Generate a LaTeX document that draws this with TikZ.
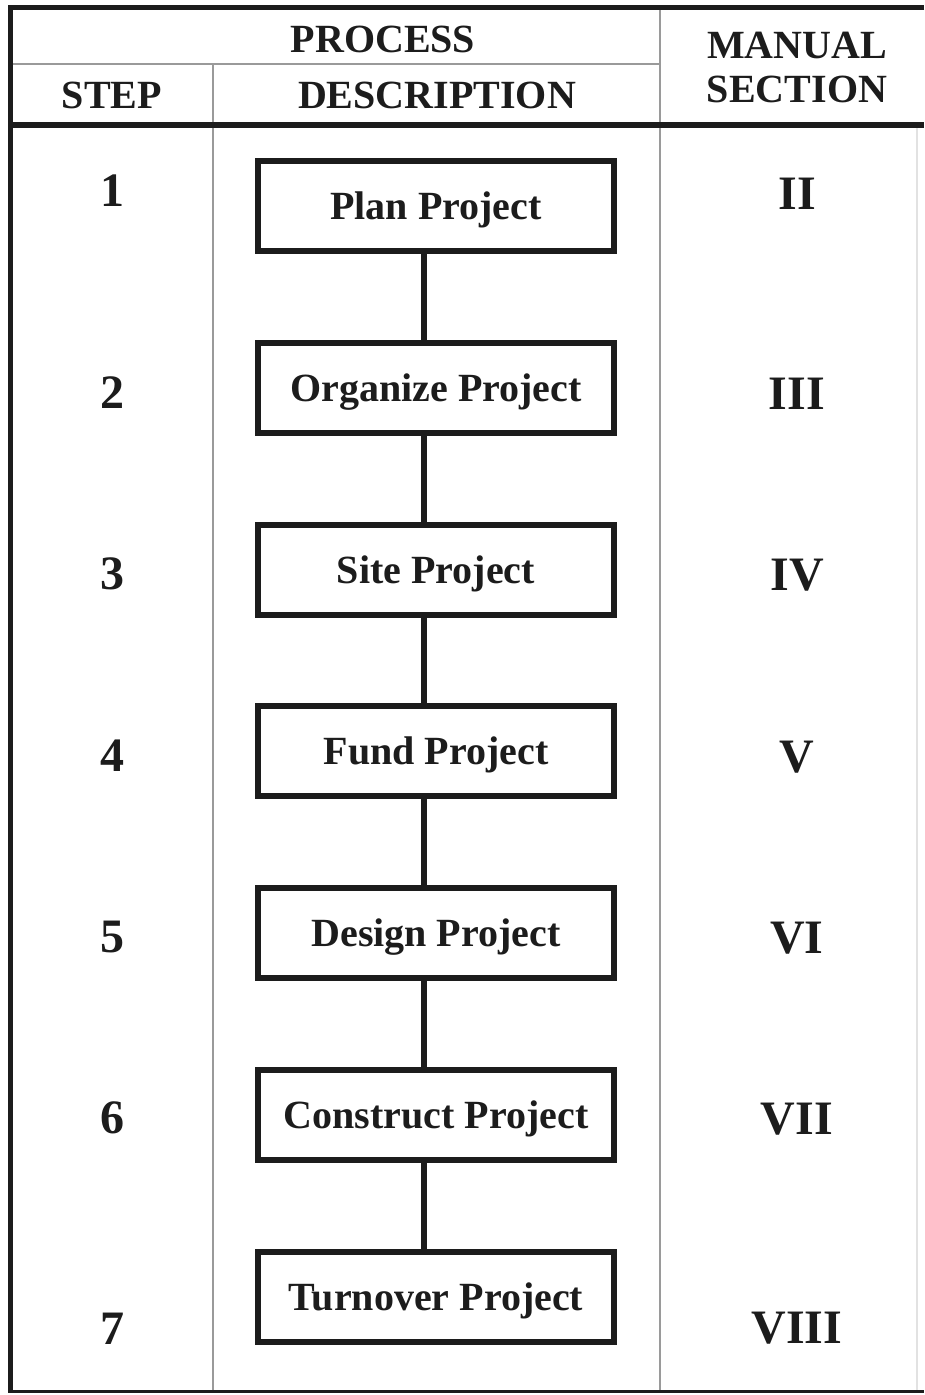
\documentclass[tikz,border=0pt]{standalone}
\usepackage{fontspec}
\setmainfont{Liberation Serif}
\definecolor{ink}{HTML}{1C1C1C}
\definecolor{rulegray}{HTML}{9A9A9A}
\definecolor{faintgray}{HTML}{E2E2E2}
\begin{document}
\begin{tikzpicture}[x=1pt,y=-1pt,
  frame/.style={draw=ink,line width=5pt},
  rule/.style={draw=rulegray,line width=2.5pt},
  head/.style={anchor=base,text=ink,inner sep=0pt,font=\fontsize{40}{44}\selectfont\bfseries},
  num/.style={anchor=base,text=ink,inner sep=0pt,font=\fontsize{48}{52}\selectfont\bfseries},
  stepbox/.style={draw=ink,line width=6pt,fill=white,minimum width=356pt,minimum height=90pt,
    inner sep=0pt,text height=27pt,text depth=0pt,text=ink,font=\fontsize{40}{44}\selectfont\bfseries},
  link/.style={draw=ink,line width=6pt}]
\useasboundingbox (0,0) rectangle (924,1395);
\fill[white] (0,0) rectangle (924,1395);

% table rules
\draw[rule] (10,64) -- (660,64);
\draw[rule] (213,64) -- (213,1391);
\draw[rule] (660,7) -- (660,1391);
\draw[draw=faintgray,line width=1.5pt] (917,127) -- (917,1391);
\draw[frame] (924,7) -- (10,7) -- (10,1391);
\draw[frame,line width=6pt] (8,124.5) -- (924,124.5);
\draw[frame,line width=3pt] (8,1391) -- (924,1391);

% header
\node[head] (hproc) at (383,52) {PROCESS};
\node[head] (hstep) at (112,108) {STEP};
\node[head] (hdesc) at (437,108) {DESCRIPTION};
\node[head] (hman) at (797,58) {MANUAL};
\node[head] (hsec) at (797,102) {SECTION};

% process boxes
\node[stepbox] (b1) at (436,206) {Plan Project};
\node[stepbox] (b2) at (436,387.75) {Organize Project};
\node[stepbox] (b3) at (436,569.5) {Site Project};
\node[stepbox] (b4) at (436,751.25) {Fund Project};
\node[stepbox] (b5) at (436,933) {Design Project};
\node[stepbox] (b6) at (436,1114.75) {Construct Project};
\node[stepbox] (b7) at (436,1296.5) {Turnover Project};

\foreach \a/\b in {b1/b2,b2/b3,b3/b4,b4/b5,b5/b6,b6/b7}
  \draw[link] ([xshift=-12pt]\a.south) -- ([xshift=-12pt]\b.north);

% step numbers
\node[num] (s1) at (112,206) {1};
\node[num] (s2) at (112,408) {2};
\node[num] (s3) at (112,589) {3};
\node[num] (s4) at (112,771) {4};
\node[num] (s5) at (112,952) {5};
\node[num] (s6) at (112,1133) {6};
\node[num] (s7) at (112,1344) {7};

% manual sections
\node[num] (m1) at (797,209) {II};
\node[num] (m2) at (797,409) {III};
\node[num] (m3) at (797,590) {IV};
\node[num] (m4) at (797,772) {V};
\node[num] (m5) at (797,953) {VI};
\node[num] (m6) at (797,1134) {VII};
\node[num] (m7) at (797,1343) {VIII};
\end{tikzpicture}
\end{document}
